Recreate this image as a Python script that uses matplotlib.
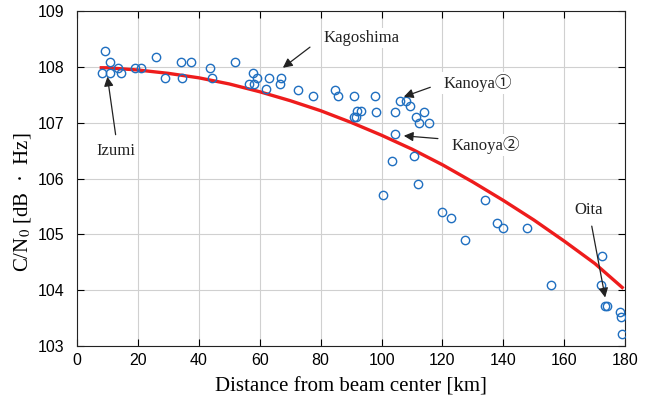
import matplotlib.pyplot as plt

plt.rcParams['mathtext.fontset'] = 'stix'

# measured C/N0 vs distance
dist = [9.2, 8.3, 10.9, 10.9, 13.6, 14.4, 19.0, 21.0, 25.8, 28.9, 34.1, 34.6,
        37.3, 43.6, 44.4, 51.8, 57.9, 56.5, 58.1, 59.0, 62.2, 63.0, 67.0, 66.5,
        72.5, 77.4, 84.8, 85.8, 91.1, 97.7, 92.0, 93.1, 91.7, 90.8, 98.1, 104.4,
        106.0, 108.0, 109.4, 113.9, 111.2, 112.4, 115.7, 104.4, 110.8, 103.4,
        100.4, 111.9, 134.1, 119.7, 122.9, 137.9, 139.9, 147.7, 127.4,
        155.6, 172.3, 172.0, 173.4, 173.9, 178.2, 178.6, 179.0]
cn0 = [108.29, 107.90, 108.09, 107.90, 107.99, 107.89, 107.99, 107.99, 108.19,
       107.80, 108.09, 107.80, 108.09, 107.99, 107.80, 108.09, 107.90, 107.70,
       107.70, 107.80, 107.61, 107.80, 107.80, 107.70, 107.59, 107.49, 107.59,
       107.49, 107.49, 107.49, 107.21, 107.21, 107.11, 107.11, 107.20, 107.20,
       107.40, 107.40, 107.30, 107.20, 107.10, 107.00, 107.00, 106.81, 106.40,
       106.32, 105.71, 105.90, 105.61, 105.40, 105.30, 105.21, 105.11, 105.11,
       104.91, 104.10, 104.62, 104.10, 103.71, 103.71, 103.61, 103.52, 103.21]

# fitted curve
fit_x = [8, 10, 20, 30, 40, 50, 60, 70, 80, 90, 100, 110, 120, 130, 140, 150,
         160, 170, 179]
fit_y = [107.99, 107.99, 107.95, 107.89, 107.81, 107.70, 107.56, 107.40, 107.22,
         107.01, 106.78, 106.53, 106.25, 105.94, 105.61, 105.26, 104.88, 104.48,
         104.05]

# label, text pos, arrow tail, arrow head, ha
notes = [
    ('Izumi', (12.9, 106.49), (12.7, 106.79), (10.0, 107.83), 'center'),
    ('Kagoshima', (81.0, 108.52), (76.5, 108.36), (67.6, 107.99), 'left'),
    ('Kanoya\u2460', (120.3, 107.72), (116.0, 107.64), (107.3, 107.47), 'left'),
    ('Kanoya\u2461', (123.0, 106.61), (118.5, 106.72), (107.3, 106.77), 'left'),
    ('Oita', (168.1, 105.44), (169.0, 105.15), (173.4, 103.87), 'center'),
]

fig = plt.figure(figsize=(6.52, 4.09), dpi=100)
ax = fig.add_axes([0.118, 0.154, 0.841, 0.818])

ax.plot(fit_x, fit_y, color='#ee1c1c', lw=2.4, zorder=3)
ax.plot(dist, cn0, ls='none', marker='o', ms=6, mfc='none', mec='#1f6fc0',
        mew=1.0, zorder=4)

for lab, tpos, tail, head, ha in notes:
    ax.annotate('', xy=head, xytext=tail,
                arrowprops=dict(arrowstyle='-|>', color='#222222', lw=0.9,
                                mutation_scale=14, shrinkA=0, shrinkB=0),
                zorder=5)
    ax.text(tpos[0], tpos[1], lab, ha=ha, va='center', fontsize=12,
            family=['Liberation Serif', 'Noto Sans CJK JP'], color='#222222',
            bbox=dict(fc='white', ec='none', pad=1.5), zorder=5)

ax.set_xlim(0, 180)
ax.set_ylim(103, 109)
ax.set_xticks(range(0, 181, 20))
ax.set_yticks(range(103, 110))
ax.grid(True, color='#d0d0d0', lw=0.8)
ax.set_axisbelow(True)
ax.tick_params(direction='in', top=True, right=True, length=5, labelsize=11.5)
ax.tick_params(axis='x', pad=5)
ax.tick_params(axis='y', pad=9)
for lbl in ax.get_xticklabels() + ax.get_yticklabels():
    lbl.set_family(['Liberation Sans Narrow', 'Liberation Sans'])
for s in ax.spines.values():
    s.set_color('#222222')

ax.set_xlabel('Distance from beam center [km]', fontsize=15,
              family='Liberation Serif', labelpad=7)
ax.set_ylabel('C/N$_0$ [dB  \u00b7  Hz]', fontsize=15,
              family='Liberation Serif')
ax.yaxis.set_label_coords(-0.08, 0.43)

fig.savefig('out.png', dpi=100)
